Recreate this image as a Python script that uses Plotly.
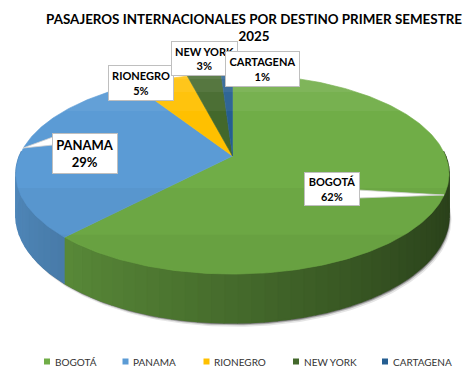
import numpy as np
import plotly.graph_objects as go

# ---------------- data ----------------
labels = ["BOGOTÁ", "PANAMA", "RIONEGRO", "NEW YORK", "CARTAGENA"]
values = [62, 29, 5, 3, 1]
colors = ["#70AD47", "#5B9BD5", "#FFC000", "#43682B", "#255E91"]
title_text = "PASAJEROS INTERNACIONALES POR DESTINO PRIMER SEMESTRE<br>2025"

# ---------------- geometry (pixel space) ----------------
W, H = 476, 378
CX, CY = 232.5, 156.0        # projected centre of the top face
A, B, K = 213.0, 96.8, 0.18  # radii and perspective factor
DEPTH = 40.0


def proj(t, drop=0.0):
    X, Y = np.cos(t), np.sin(t)
    w = 1 - K * Y
    return CX + A * X / w, CY + B * Y / w + drop / w


def hex2rgb(h):
    h = h.lstrip("#")
    return tuple(int(h[i:i + 2], 16) for i in (0, 2, 4))


def shade(h, f):
    r, g, b = hex2rgb(h)
    return "rgb(%d,%d,%d)" % (min(255, r * f), min(255, g * f), min(255, b * f))


total = float(sum(values))
fracs = np.array(values) / total
bounds = np.concatenate([[0], np.cumsum(fracs)])
# first slice starts at 12 o'clock and runs clockwise (increasing t, y down)
angles = -np.pi / 2 + bounds * 2 * np.pi

fig = go.Figure()

# soft shadow under the pie
for off, op in [(4, 0.10), (2.5, 0.22), (1.5, 0.35)]:
    ts = np.linspace(0, np.pi, 200)
    xs, ys = proj(ts, DEPTH)
    xs2 = np.concatenate([xs + off * 0.6, xs[::-1]])
    ys2 = np.concatenate([ys + off, ys[::-1] - 3])
    fig.add_trace(go.Scatter(x=xs2, y=ys2, mode="lines", fill="toself",
                             fillcolor="rgba(0,0,0,%.2f)" % op, line=dict(width=0),
                             hoverinfo="skip", showlegend=False))

# side walls (front half only), drawn in thin strips for a gradient
for i, c in enumerate(colors):
    t1, t2 = angles[i], angles[i + 1]
    for shift in (0.0, 2 * np.pi, -2 * np.pi):
        a1, a2 = max(t1 + shift, -0.05), min(t2 + shift, np.pi + 0.05)
        if a2 <= a1:
            continue
        n = max(1, int(np.ceil((a2 - a1) / np.radians(3))))
        edges = np.linspace(a1, a2, n + 1)
        for j in range(n):
            ta = np.linspace(edges[j], edges[j + 1], 4)
            xt, yt = proj(ta)
            xb, yb = proj(ta[::-1], DEPTH)
            tm = 0.5 * (edges[j] + edges[j + 1])
            f = 0.62 - 0.25 * np.cos(tm)
            col = shade(c, f)
            fig.add_trace(go.Scatter(x=np.concatenate([xt, xb]), y=np.concatenate([yt, yb]),
                                     mode="lines", fill="toself", fillcolor=col,
                                     line=dict(width=1.6, color=col),
                                     hoverinfo="skip", showlegend=False))

# top faces
for i, c in enumerate(colors):
    ts = np.linspace(angles[i], angles[i + 1], max(3, int(values[i] * 4)))
    xs, ys = proj(ts)
    fig.add_trace(go.Scatter(x=np.concatenate([[CX], xs, [CX]]), y=np.concatenate([[CY], ys, [CY]]),
                             mode="lines", fill="toself", fillcolor=c,
                             line=dict(width=0.6, color=c),
                             name=labels[i], hoverinfo="skip", showlegend=False))

# subtle lighting on the top face: lighter at the back, darker at the front
for lim, op in [(-0.5, 0.05), (-0.75, 0.06), (-0.92, 0.06)]:
    ts = np.linspace(-np.pi, 0, 160)
    ts = ts[np.sin(ts) <= lim]
    xs, ys = proj(ts)
    fig.add_trace(go.Scatter(x=xs, y=ys, mode="lines", fill="toself",
                             fillcolor="rgba(255,255,255,%.2f)" % op, line=dict(width=0),
                             hoverinfo="skip", showlegend=False))
for lim, op in [(0.3, 0.03), (0.7, 0.03)]:
    ts = np.linspace(0, np.pi, 160)
    ts = ts[np.sin(ts) >= lim]
    xs, ys = proj(ts)
    fig.add_trace(go.Scatter(x=xs, y=ys, mode="lines", fill="toself",
                             fillcolor="rgba(0,0,0,%.2f)" % op, line=dict(width=0),
                             hoverinfo="skip", showlegend=False))

# callout pointers
pointers = [
    [(53, 137), (53, 145), (23, 148)],      # PANAMA
    [(358, 190), (358, 198), (444, 195)],   # BOGOTÁ
]
for p in pointers:
    px = [q[0] for q in p] + [p[0][0]]
    py = [q[1] for q in p] + [p[0][1]]
    fig.add_trace(go.Scatter(x=px, y=py, mode="lines", fill="toself", fillcolor="white",
                             line=dict(width=0.8, color="#D0D0D0"),
                             hoverinfo="skip", showlegend=False))

# data labels (boxes)
label_boxes = {  # label index -> (centre x, centre y, width, height, font size)
    1: (84.5, 153, 64, 39, 13),
    2: (140.5, 82.5, 64, 34, 11),
    3: (204, 58, 65, 33, 11),
    4: (262, 68.5, 73, 34, 11),
    0: (331.5, 188.5, 54, 32, 11),
}
annotations = []
for idx in [1, 2, 3, 4, 0]:
    x, y, w, h, fs = label_boxes[idx]
    annotations.append(dict(
        x=x, y=y, xref="x", yref="y", showarrow=False,
        text="<b>%s<br>%d%%</b>" % (labels[idx], round(values[idx] / total * 100)),
        font=dict(family="Lato, Open Sans, sans-serif", size=fs, color="#000000"),
        bgcolor="white", bordercolor="#BFBFBF", borderwidth=1, borderpad=0,
        width=w, height=h, align="center", valign="middle"))

# legend (manual, to match spacing)
leg_x = [47, 125.5, 206.5, 296, 385]
leg_y = 361.5
fig.add_trace(go.Scatter(x=leg_x, y=[leg_y] * len(leg_x), mode="markers",
                         marker=dict(symbol="square", size=6, color=colors, line=dict(width=0)),
                         hoverinfo="skip", showlegend=False))
for i, lx in enumerate(leg_x):
    annotations.append(dict(x=lx + 5.5, y=leg_y, xref="x", yref="y", showarrow=False,
                            xanchor="left", yanchor="middle", text=labels[i],
                            font=dict(family="Lato, Open Sans, sans-serif", size=10, color="#333333")))

fig.update_layout(
    width=W, height=H, margin=dict(l=0, r=0, t=0, b=0),
    paper_bgcolor="white", plot_bgcolor="white",
    title=dict(text="<b>" + title_text + "</b>", x=254 / W, xanchor="center",
               y=1 - 23.5 / H, yanchor="middle",
               font=dict(family="Lato, Open Sans, sans-serif", size=13.4, color="#000000")),
    xaxis=dict(range=[0, W], visible=False, fixedrange=True),
    yaxis=dict(range=[H, 0], visible=False, fixedrange=True),
    annotations=annotations,
    showlegend=False,
)

fig.write_html("out.html", config={"displayModeBar": False},
               post_script="document.body.style.margin='0';")
